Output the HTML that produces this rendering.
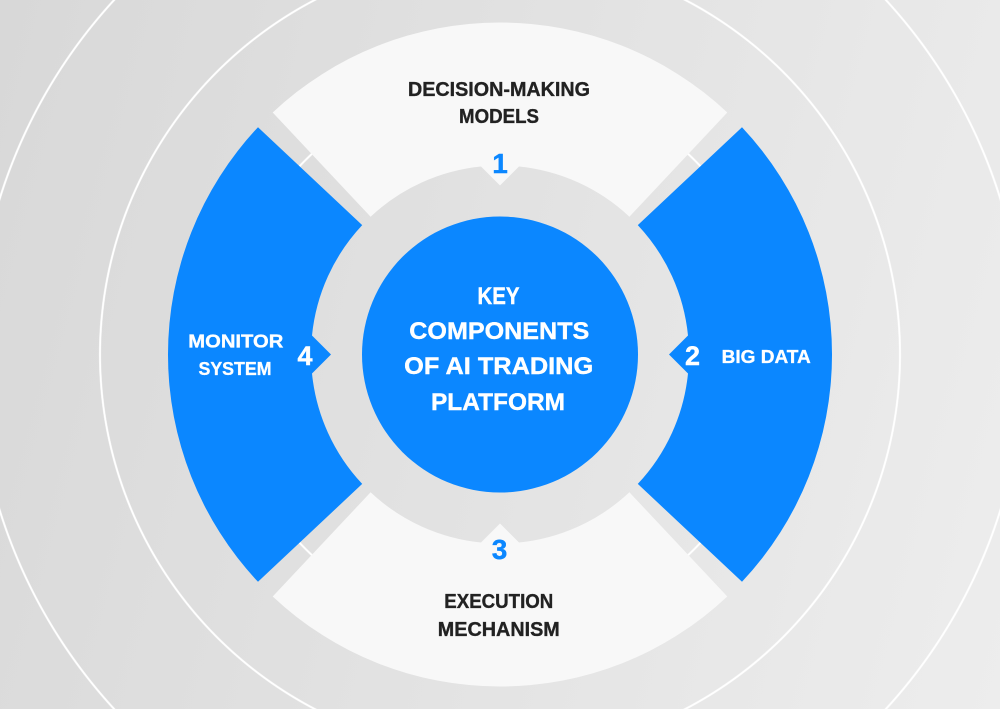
<!DOCTYPE html>
<html>
<head>
<meta charset="utf-8">
<style>
  html, body { margin:0; padding:0; width:1000px; height:709px; overflow:hidden; }
  body {
    background:
      radial-gradient(circle at 500px 354.5px,
        rgba(255,255,255,0) 273.6px, #ffffff 274.4px, #ffffff 275.6px, rgba(255,255,255,0) 276.4px,
        rgba(255,255,255,0) 398.6px, #ffffff 399.4px, #ffffff 400.6px, rgba(255,255,255,0) 401.4px,
        rgba(255,255,255,0) 522.6px, #ffffff 523.4px, #ffffff 524.6px, rgba(255,255,255,0) 525.4px),
      linear-gradient(105deg, #d8d8d8 0%, #ededed 100%);
  }
  svg { display:block; }
  text { font-family: "Liberation Sans", Arial, sans-serif; font-weight:bold; }
</style>
</head>
<body>
<svg width="1000" height="709" viewBox="0 0 1000 709" xmlns="http://www.w3.org/2000/svg">
  <defs>
    <path id="seg" d="M 272.7 112.5 A 332 332 0 0 1 727.3 112.5 L 629.4 216.7 A 189 189 0 0 0 519.0 166.5 L 500 185.5 L 481.0 166.5 A 189 189 0 0 0 370.6 216.7 Z"/>
  </defs>

  <!-- segments -->
  <use href="#seg" fill="#f8f8f8"/>
  <use href="#seg" fill="#f8f8f8" transform="rotate(180 500 354.5)"/>
  <use href="#seg" fill="#0b87ff" transform="rotate(90 500 354.5)"/>
  <use href="#seg" fill="#0b87ff" transform="rotate(-90 500 354.5)"/>

  <!-- center circle -->
  <circle cx="500" cy="354.5" r="138" fill="#0b87ff"/>

  <!-- center text -->
  <g fill="#ffffff" stroke="#ffffff" stroke-width="0.4" font-size="24" text-anchor="middle">
    <text x="498.5" y="304" textLength="42" lengthAdjust="spacingAndGlyphs">KEY</text>
    <text x="499.3" y="339" textLength="180" lengthAdjust="spacingAndGlyphs">COMPONENTS</text>
    <text x="498.7" y="374" textLength="189" lengthAdjust="spacingAndGlyphs">OF AI TRADING</text>
    <text x="498" y="410" textLength="134" lengthAdjust="spacingAndGlyphs">PLATFORM</text>
  </g>

  <!-- top / bottom segment labels -->
  <g fill="#222222" stroke="#222222" stroke-width="0.35" font-size="20" text-anchor="middle">
    <text x="499" y="96" textLength="182" lengthAdjust="spacingAndGlyphs">DECISION-MAKING</text>
    <text x="499" y="123" textLength="80" lengthAdjust="spacingAndGlyphs">MODELS</text>
    <text x="498.8" y="608" textLength="109" lengthAdjust="spacingAndGlyphs">EXECUTION</text>
    <text x="498.8" y="636" textLength="122" lengthAdjust="spacingAndGlyphs">MECHANISM</text>
  </g>
  <g fill="#0b87ff" stroke="#0b87ff" stroke-width="0.4" font-size="28" text-anchor="middle">
    <text x="500" y="173">1</text>
    <text x="499.5" y="559">3</text>
  </g>

  <!-- left / right segment labels -->
  <g fill="#ffffff" stroke="#ffffff" stroke-width="0.35" font-size="18.5" text-anchor="middle">
    <text x="235.8" y="347.5" textLength="95" lengthAdjust="spacingAndGlyphs">MONITOR</text>
    <text x="235" y="375" textLength="73" lengthAdjust="spacingAndGlyphs">SYSTEM</text>
    <text x="766.2" y="363" textLength="89" lengthAdjust="spacingAndGlyphs">BIG DATA</text>
  </g>
  <g fill="#ffffff" stroke="#ffffff" stroke-width="0.4" font-size="27" text-anchor="middle">
    <text x="305" y="365">4</text>
    <text x="692.5" y="365">2</text>
  </g>
</svg>
</body>
</html>
